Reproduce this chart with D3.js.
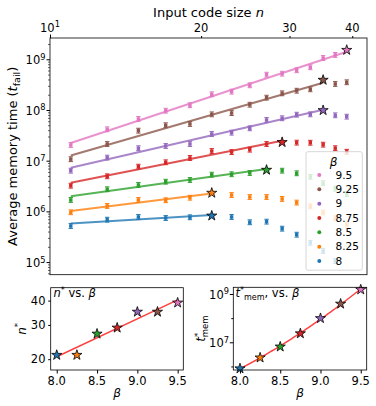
<!DOCTYPE html>
<html>
<head>
<meta charset="utf-8">
<script src="https://cdn.jsdelivr.net/npm/d3@7"></script>
<style>
  body { margin: 0; background: #fff; }
  svg { font-family: "DejaVu Sans", sans-serif; }
</style>
</head>
<body>
<div id="app"></div>
<script>
const nValues = [11, 13, 15, 17, 19, 21, 23, 25, 27, 29, 31, 33, 35, 37, 39]
const betas = [8, 8.25, 8.5, 8.75, 9, 9.25, 9.5]
const betaLabels = ['8', '8.25', '8.5', '8.75', '9', '9.25', '9.5']
const colors = ['#1f77b4', '#ff7f0e', '#2ca02c', '#d62728', '#9467bd', '#8c564b', '#e377c2']
const nStar = [21, 21, 27, 29, 35, 35, 39]

// average memory time per n, one array per beta
const tFail8 = [5.15e5, 6.86e5, 7.76e5, 7.4e5, 7.65e5, 8.2e5, 7.76e5, 6.1e5, 6.27e5, 4.56e5, 3.47e5, 2.4e5, 1.65e5, 1.05e5, null]
const tFail825 = [9.6e5, 1.28e6, 1.68e6, 1.66e6, 1.86e6, 2.31e6, 2.1e6, 1.92e6, 1.92e6, 1.76e6, 1.49e6, 1.26e6, 9.5e5, 7.3e5, 5.5e5]
const tFail85 = [1.68e6, 2.73e6, 3.32e6, 3.85e6, 4.16e6, 5.3e6, 5.4e6, 5.72e6, 6.56e6, 6.35e6, 5.64e6, 4.8e6, 3.6e6, 2.8e6, 2.2e6]
const tFail875 = [3.21e6, 4.92e6, 7.62e6, 9.3e6, 1.13e7, 1.55e7, 1.48e7, 1.65e7, 2.13e7, 2.31e7, 2.27e7, 2.26e7, 2.07e7, 1.76e7, 1.5e7]
const tFail9 = [6.35e6, 1.15e7, 1.76e7, 1.95e7, 2.13e7, 3.36e7, 3.57e7, 4.35e7, 6.35e7, 6.86e7, 8.07e7, 8.2e7, 9.86e7, 7.85e7, 7.38e7]
const tFail925 = [1.07e7, 2.13e7, 3.91e7, 5.0e7, 5.3e7, 8.2e7, 8.7e7, 1.27e8, 1.75e8, 2.13e8, 2.4e8, 2.56e8, 3.91e8, 3.26e8, 3.52e8]
const tFail95 = [2.04e7, 4.16e7, 6.64e7, 9.69e7, 1.24e8, 2.04e8, 2.3e8, 3.07e8, 4.97e8, 5.2e8, 6.07e8, 6.95e8, 1.06e9, 1.22e9, 1.52e9]
const tFailAll = [tFail8, tFail825, tFail85, tFail875, tFail9, tFail925, tFail95]

const series = betas.map((b, i) => {
  const pts = nValues.map((n, j) => ({ n, t: tFailAll[i][j] })).filter(p => p.t != null)
  const star = pts.find(p => p.n === nStar[i])
  return { beta: b, label: betaLabels[i], color: colors[i], pts, star }
})

// least squares line
function linfit(xs, ys) {
  const mx = d3.mean(xs), my = d3.mean(ys)
  let sxy = 0, sxx = 0
  xs.forEach((v, i) => { sxy += (v - mx) * (ys[i] - my); sxx += (v - mx) ** 2 })
  const a = sxy / sxx
  return v => my + a * (v - mx)
}

// least squares parabola (centered)
function quadfit(xs, ys) {
  const mx = d3.mean(xs)
  const u = xs.map(v => v - mx)
  const S = k => d3.sum(u, v => v ** k)
  const T = k => d3.sum(u, (v, i) => v ** k * ys[i])
  const A = [[S(0), S(1), S(2)], [S(1), S(2), S(3)], [S(2), S(3), S(4)]]
  const B = [T(0), T(1), T(2)]
  const det = m => m[0][0] * (m[1][1] * m[2][2] - m[1][2] * m[2][1]) - m[0][1] * (m[1][0] * m[2][2] - m[1][2] * m[2][0]) + m[0][2] * (m[1][0] * m[2][1] - m[1][1] * m[2][0])
  const D = det(A)
  const c = [0, 1, 2].map(k => det(A.map((row, r) => row.map((v, col) => col === k ? B[r] : v))) / D)
  return v => c[0] + c[1] * (v - mx) + c[2] * (v - mx) ** 2
}

const svg = d3.select('#app').append('svg')
  .attr('width', 376)
  .attr('height', 406)

function pow10(sel, exp) {
  sel.append('tspan').text('10')
  sel.append('tspan').attr('dy', -4.5).attr('font-size', '0.72em').text(exp)
}

// ---------- main panel ----------
const M = { l: 50, r: 367, t: 38, b: 274.7 }
const x = d3.scaleLog().domain([10, 42.8]).range([M.l, M.r])
const y = d3.scaleLog().domain([10 ** 4.751, 10 ** 9.42]).range([M.b, M.t])

svg.append('clipPath').attr('id', 'clipMain')
  .append('rect').attr('x', M.l).attr('y', M.t).attr('width', M.r - M.l).attr('height', M.b - M.t)

// top axis
svg.append('g').attr('transform', `translate(0,${M.t})`)
  .call(d3.axisTop(x).tickValues([10]).tickSize(3.5).tickFormat(''))
  .call(g => g.select('.domain').remove())
svg.append('g').attr('transform', `translate(0,${M.t})`)
  .call(d3.axisTop(x).tickValues([20, 30, 40]).tickSize(2).tickFormat(''))
  .call(g => g.select('.domain').remove())
svg.append('text').attr('x', x(10)).attr('y', 31.5).attr('text-anchor', 'middle')
  .attr('font-size', 11.5).call(pow10, '1')
svg.selectAll('.xtl').data([20, 30, 40]).join('text')
  .attr('x', d => x(d)).attr('y', 31.5).attr('text-anchor', 'middle')
  .attr('font-size', 11.5).text(d => d)

const xt = svg.append('text').attr('x', (M.l + M.r) / 2).attr('y', 16.5)
  .attr('text-anchor', 'middle').attr('font-size', 13)
xt.append('tspan').text('Input code size ')
xt.append('tspan').attr('font-style', 'italic').text('n')

// left axis
const yMajor = [1e5, 1e6, 1e7, 1e8, 1e9]
const yMinor = []
for (let k = 4; k <= 9; k++) for (let m = 2; m <= 9; m++) {
  const v = m * 10 ** k
  if (v > y.domain()[0] && v < y.domain()[1]) yMinor.push(v)
}
svg.append('g').attr('transform', `translate(${M.l},0)`)
  .call(d3.axisLeft(y).tickValues(yMajor).tickSize(3.5).tickFormat(''))
  .call(g => g.select('.domain').remove())
svg.append('g').attr('transform', `translate(${M.l},0)`)
  .call(d3.axisLeft(y).tickValues(yMinor).tickSize(2).tickFormat(''))
  .call(g => g.select('.domain').remove())
  .call(g => g.selectAll('line').attr('stroke-width', 0.6))
yMajor.forEach(v => {
  svg.append('text').attr('x', 45.5).attr('y', y(v) + 5).attr('text-anchor', 'end')
    .attr('font-size', 11.5).call(pow10, Math.round(Math.log10(v)))
})

const yl = svg.append('text').attr('transform', `translate(16.5,${(M.t + M.b) / 2}) rotate(-90)`)
  .attr('text-anchor', 'middle').attr('font-size', 13)
yl.append('tspan').text('Average memory time (')
yl.append('tspan').attr('font-style', 'italic').text('t')
yl.append('tspan').attr('dy', 3).attr('font-size', 9.5).text('fail')
yl.append('tspan').attr('dy', -3).text(')')

const plot = svg.append('g').attr('clip-path', 'url(#clipMain)')

series.forEach(s => {
  const fitPts = s.pts.filter(p => p.n <= s.star.n)
  const f = linfit(fitPts.map(p => Math.log10(p.n)), fitPts.map(p => Math.log10(p.t)))
  const n0 = nValues[0], n1 = s.star.n
  plot.append('line')
    .attr('x1', x(n0)).attr('y1', y(10 ** f(Math.log10(n0))))
    .attr('x2', x(n1)).attr('y2', y(10 ** f(Math.log10(n1))))
    .attr('stroke', s.color).attr('stroke-width', 2).attr('stroke-opacity', 0.8)

  const mk = plot.selectAll(null).data(s.pts.filter(p => p !== s.star)).join('g')
    .attr('transform', d => `translate(${x(d.n)},${y(d.t)})`)
    .attr('fill', s.color).attr('stroke', s.color)
  mk.append('rect').attr('x', -1.7).attr('y', -1.7).attr('width', 3.4).attr('height', 3.4).attr('stroke', 'none')
  mk.append('path').attr('d', 'M-2.2,-2.4H2.2M-2.2,2.4H2.2M0,-2.4V2.4').attr('stroke-width', 1).attr('fill', 'none')
})

const star = d3.symbol(d3.symbolStar).size(32)
series.forEach(s => {
  plot.append('path').attr('d', star())
    .attr('transform', `translate(${x(s.star.n)},${y(s.star.t)})`)
    .attr('fill', s.color).attr('stroke', '#000').attr('stroke-width', 0.8)
})

svg.append('rect').attr('x', M.l).attr('y', M.t).attr('width', M.r - M.l).attr('height', M.b - M.t)
  .attr('fill', 'none').attr('stroke', '#000').attr('stroke-width', 0.8)

// legend
const lg = svg.append('g')
lg.append('rect').attr('x', 306).attr('y', 151.7).attr('width', 56.3).attr('height', 118.5).attr('rx', 2)
  .attr('fill', '#fff').attr('fill-opacity', 0.8).attr('stroke', '#ccc').attr('stroke-width', 0.8)
lg.append('text').attr('x', 333.5).attr('y', 166).attr('text-anchor', 'middle')
  .attr('font-size', 12).attr('font-style', 'italic').text('β')
const legendRows = series.slice().reverse()
const rowY = d3.scaleLinear().domain([0, 6]).range([175, 261])
legendRows.forEach((s, i) => {
  lg.append('circle').attr('cx', 319.3).attr('cy', rowY(i)).attr('r', 2).attr('fill', s.color)
  lg.append('text').attr('x', 335.5).attr('y', rowY(i) + 3.7).attr('font-size', 10.5).text(s.label)
})

// ---------- inset: n* vs beta ----------
const A = { l: 50.7, r: 183.3, t: 287.7, b: 370 }
const ax = d3.scaleLinear().domain([7.925, 9.57]).range([A.l, A.r])
const ay = d3.scaleLog().domain([17.6, 46.6]).range([A.b, A.t])
svg.append('g').attr('transform', `translate(0,${A.b})`)
  .call(d3.axisBottom(ax).tickValues([8, 8.5, 9, 9.5]).tickSize(3.5).tickFormat(''))
  .call(g => g.select('.domain').remove())
svg.selectAll('.axl').data([8, 8.5, 9, 9.5]).join('text')
  .attr('x', d => ax(d)).attr('y', 385).attr('text-anchor', 'middle').attr('font-size', 11.5)
  .text(d => d.toFixed(1))
svg.append('g').attr('transform', `translate(${A.l},0)`)
  .call(d3.axisLeft(ay).tickValues([20, 30, 40]).tickSize(2.5).tickFormat(''))
  .call(g => g.select('.domain').remove())
svg.selectAll('.ayl').data([20, 30, 40]).join('text')
  .attr('x', 45.5).attr('y', d => ay(d) + 4.2).attr('text-anchor', 'end').attr('font-size', 11.5)
  .text(d => d)

const nfit = linfit(betas, nStar.map(v => Math.log10(v)))
svg.append('line')
  .attr('x1', ax(betas[0])).attr('y1', ay(10 ** nfit(betas[0])))
  .attr('x2', ax(betas[6])).attr('y2', ay(10 ** nfit(betas[6])))
  .attr('stroke', 'red').attr('stroke-opacity', 0.75).attr('stroke-width', 1.5)
series.forEach(s => {
  svg.append('path').attr('d', star())
    .attr('transform', `translate(${ax(s.beta)},${ay(s.star.n)})`)
    .attr('fill', s.color).attr('stroke', '#000').attr('stroke-width', 0.8)
})
svg.append('rect').attr('x', A.l).attr('y', A.t).attr('width', A.r - A.l).attr('height', A.b - A.t)
  .attr('fill', 'none').attr('stroke', '#000').attr('stroke-width', 0.8)

const t1 = svg.append('text').attr('x', 53.5).attr('y', 297).attr('font-size', 11.5)
t1.append('tspan').attr('font-style', 'italic').text('n')
t1.append('tspan').attr('dy', -4.5).attr('font-size', 8).text('*')
t1.append('tspan').attr('dy', 4.5).text(' vs. ')
t1.append('tspan').attr('font-style', 'italic').text('β')

svg.append('text').attr('x', (A.l + A.r) / 2).attr('y', 397).attr('text-anchor', 'middle')
  .attr('font-size', 12).attr('font-style', 'italic').text('β')
const nl = svg.append('text').attr('transform', `translate(25.5,${(A.t + A.b) / 2}) rotate(-90)`)
  .attr('text-anchor', 'middle').attr('font-size', 12)
nl.append('tspan').attr('font-style', 'italic').text('n')
nl.append('tspan').attr('dy', -4.5).attr('font-size', 8.5).text('*')

// ---------- inset: t*mem vs beta ----------
const B = { l: 233.3, r: 366.7, t: 287.3, b: 370 }
const bx = d3.scaleLinear().domain([7.917, 9.574]).range([B.l, B.r])
const by = d3.scaleLog().domain([10 ** 5.853, 10 ** 9.277]).range([B.b, B.t])
svg.append('clipPath').attr('id', 'clipB')
  .append('rect').attr('x', B.l).attr('y', B.t).attr('width', B.r - B.l).attr('height', B.b - B.t)
svg.append('g').attr('transform', `translate(0,${B.b})`)
  .call(d3.axisBottom(bx).tickValues([8, 8.5, 9, 9.5]).tickSize(3.5).tickFormat(''))
  .call(g => g.select('.domain').remove())
svg.selectAll('.bxl').data([8, 8.5, 9, 9.5]).join('text')
  .attr('x', d => bx(d)).attr('y', 385).attr('text-anchor', 'middle').attr('font-size', 11.5)
  .text(d => d.toFixed(1))
svg.append('g').attr('transform', `translate(${B.l},0)`)
  .call(d3.axisLeft(by).tickValues([1e7, 1e9]).tickSize(3.5).tickFormat(''))
  .call(g => g.select('.domain').remove())
svg.append('g').attr('transform', `translate(${B.l},0)`)
  .call(d3.axisLeft(by).tickValues([1e6, 1e8]).tickSize(2).tickFormat(''))
  .call(g => g.select('.domain').remove())
;[1e7, 1e9].forEach(v => {
  svg.append('text').attr('x', 229).attr('y', by(v) + 5).attr('text-anchor', 'end')
    .attr('font-size', 11.5).call(pow10, Math.round(Math.log10(v)))
})

const tfit = quadfit(betas, series.map(s => Math.log10(s.star.t)))
const bGrid = d3.range(8, 9.601, 0.02)
svg.append('path').attr('clip-path', 'url(#clipB)')
  .attr('d', d3.line().x(d => bx(d)).y(d => by(10 ** tfit(d)))(bGrid))
  .attr('fill', 'none').attr('stroke', 'red').attr('stroke-opacity', 0.75).attr('stroke-width', 1.5)
series.forEach(s => {
  svg.append('path').attr('d', star())
    .attr('transform', `translate(${bx(s.beta)},${by(s.star.t)})`)
    .attr('fill', s.color).attr('stroke', '#000').attr('stroke-width', 0.8)
})
svg.append('rect').attr('x', B.l).attr('y', B.t).attr('width', B.r - B.l).attr('height', B.b - B.t)
  .attr('fill', 'none').attr('stroke', '#000').attr('stroke-width', 0.8)

const t2 = svg.append('text').attr('x', 235.5).attr('y', 297).attr('font-size', 11.5)
t2.append('tspan').attr('font-style', 'italic').text('t')
t2.append('tspan').attr('dy', -4.5).attr('font-size', 8).text('*')
t2.append('tspan').attr('dy', 7).attr('font-size', 8).text('mem')
t2.append('tspan').attr('dy', -2.5).text(', vs. ')
t2.append('tspan').attr('font-style', 'italic').text('β')

svg.append('text').attr('x', (B.l + B.r) / 2).attr('y', 397).attr('text-anchor', 'middle')
  .attr('font-size', 12).attr('font-style', 'italic').text('β')
const tl = svg.append('text').attr('transform', `translate(205,${(B.t + B.b) / 2}) rotate(-90)`)
  .attr('text-anchor', 'middle').attr('font-size', 12)
tl.append('tspan').attr('font-style', 'italic').text('t')
tl.append('tspan').attr('dy', -4.5).attr('font-size', 8.5).text('*')
tl.append('tspan').attr('dx', -4.5).attr('dy', 7.5).attr('font-size', 8.5).text('mem')
</script>
</body>
</html>
